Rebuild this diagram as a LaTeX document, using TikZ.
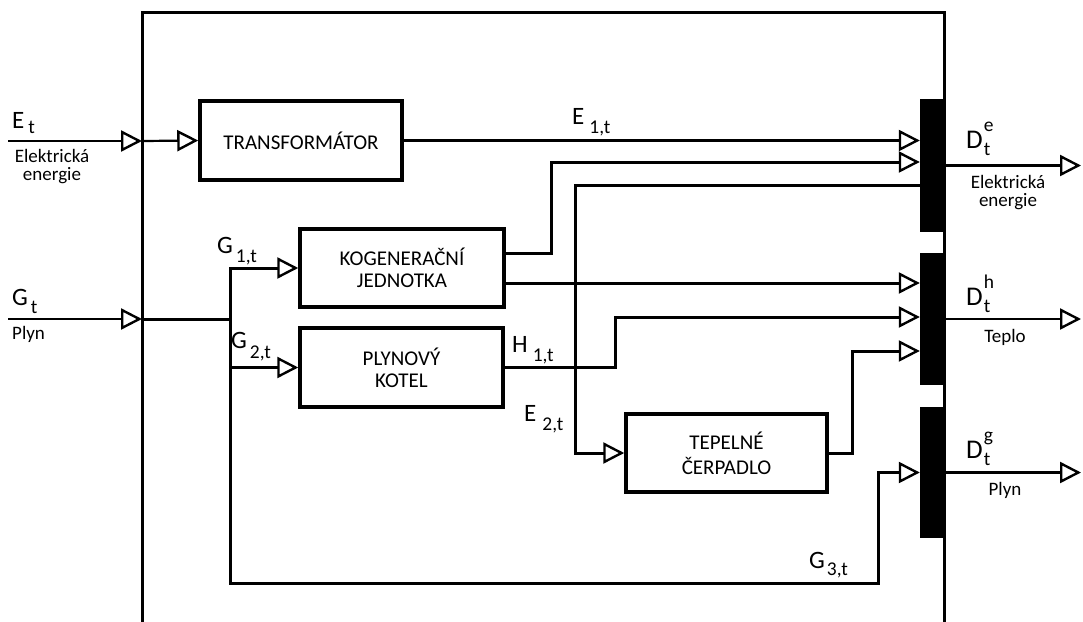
\documentclass[tikz,border=0pt]{standalone}
\usepackage{fontspec}
\setmainfont{Carlito}
\usetikzlibrary{arrows.meta}
\newcommand{\lbl}[4]{{\fontsize{25}{25}\selectfont #1}\hspace{#3}\raisebox{-#4}{\fontsize{19.5}{19.5}\selectfont #2}}
\newcommand{\dlbl}[1]{{\fontsize{27}{27}\selectfont D}\hspace{1pt}\rlap{\raisebox{17pt}{\fontsize{19.5}{19.5}\selectfont #1}}\raisebox{-7pt}{\fontsize{19.5}{19.5}\selectfont t}}
\begin{document}
\begin{tikzpicture}[x=1pt,y=-1pt,
  box/.style={draw, line width=3.5pt, inner sep=0pt, align=center, font=\fontsize{21}{22}\selectfont},
  busbar/.style={fill=black, draw=none, minimum width=25pt, inner sep=0pt},
  conn/.style={line width=3pt},
  flow/.style={conn, -{Triangle[open, fill=white, length=21pt, width=21pt, line width=2.4pt]}},
  thin/.style={line width=2.2pt},
  thinflow/.style={thin, -{Triangle[open, fill=white, length=21pt, width=21pt, line width=2.4pt]}},
  lab/.style={inner sep=0pt, anchor=base west},
  small/.style={inner sep=0pt, align=center, font=\fontsize{19}{18}\selectfont}]
\useasboundingbox (0,0) rectangle (1083,621);
% frame
\draw[line width=3pt] (142,625) -- (142,12) -- (944,12) -- (944,625);
% boxes
\node[box, minimum width=202pt, minimum height=79pt] (trans) at (301,140.5) {TRANSFORMÁTOR};
\node[box, minimum width=204pt, minimum height=78pt] (kog) at (402,268) {KOGENERAČNÍ\\JEDNOTKA};
\node[box, minimum width=203pt, minimum height=79pt] (ply) at (401.5,367.5) {PLYNOVÝ\\KOTEL};
\node[box, minimum width=201pt, minimum height=78pt] (tep) at (726.5,453) {TEPELNÉ\\[3pt]ČERPADLO};
% bus bars
\node[busbar, minimum height=133pt] (bar1) at (932.5,165.5) {};
\node[busbar, minimum height=132pt] (bar2) at (932.5,319) {};
\node[busbar, minimum height=131pt] (bar3) at (932.5,472.5) {};
% coordinates
\coordinate (ein) at (8,141);
\coordinate (ej) at (142,141);
\coordinate (gin) at (8,319);
\coordinate (gj) at (142,319);
\coordinate (gs) at (230,319);
\coordinate (deo) at (1081,165.5);
\coordinate (dho) at (1081,319);
\coordinate (dgo) at (1081,472.5);
% inputs
\draw[thinflow] (ein) -- (ej);
\draw[thinflow] (ej) -- (trans.west);
\draw[thinflow] (gin) -- (gj);
\draw[conn] (gj) -- (gs);
\draw[flow] (gs) |- (kog.west);
\draw[flow] (gs) |- (ply.west);
\draw[flow] (gs) -- ++(0,264) -- ++(648,0) |- (bar3.west);
% internal flows
\draw[flow] (trans.east) -- (trans.east -| bar1.west);
\draw[flow] ([yshift=15pt]kog.east) -- ++(46,0) |- ([yshift=3.5pt]bar1.west);
\draw[flow] ([yshift=-15pt]kog.east) -- ([yshift=-15pt]kog.east -| bar2.west);
\draw[flow] (ply.east) -- ++(111,0) |- ([yshift=2pt]bar2.west);
\draw[flow] (tep.east) -- ++(24,0) |- ([yshift=-32pt]bar2.west);
\draw[flow] ([yshift=-19.5pt]bar1.west) -- ++(-344,0) |- (tep.west);
% outputs
\draw[thinflow] (bar1.east) -- (deo);
\draw[thinflow] (bar2.east) -- (dho);
\draw[thinflow] (bar3.east) -- (dgo);
% labels
\node[lab] (let) at (12,128) {\lbl{E}{t}{4pt}{5pt}};
\node[small, anchor=north] (lee) at (52,149) {Elektrická\\energie};
\node[lab] (lgt) at (12,305) {\lbl{G}{t}{3pt}{8pt}};
\node[small, anchor=base west] (lpl) at (12,339) {Plyn};
\node[lab] (le1) at (572,124) {\lbl{E}{1,t}{5pt}{9pt}};
\node[lab] (lg1) at (217,253) {\lbl{G}{1,t}{3pt}{9pt}};
\node[lab] (lg2) at (231,348) {\lbl{G}{2,t}{3pt}{10pt}};
\node[lab] (lh1) at (512,352) {\lbl{H}{1,t}{5pt}{9pt}};
\node[lab] (le2) at (524,421) {\lbl{E}{2,t}{6pt}{9pt}};
\node[lab] (lg3) at (809,568) {\lbl{G}{3,t}{2pt}{7pt}};
\node[lab] (lde) at (966,148) {\dlbl{e}};
\node[lab] (ldh) at (966,305) {\dlbl{h}};
\node[lab] (ldg) at (966,458) {\dlbl{g}};
\node[small, anchor=north] (lre) at (1008,175) {Elektrická\\energie};
\node[small, anchor=base] (lrt) at (1005,342) {Teplo};
\node[small, anchor=base] (lrp) at (1005,495) {Plyn};
\end{tikzpicture}
\end{document}
